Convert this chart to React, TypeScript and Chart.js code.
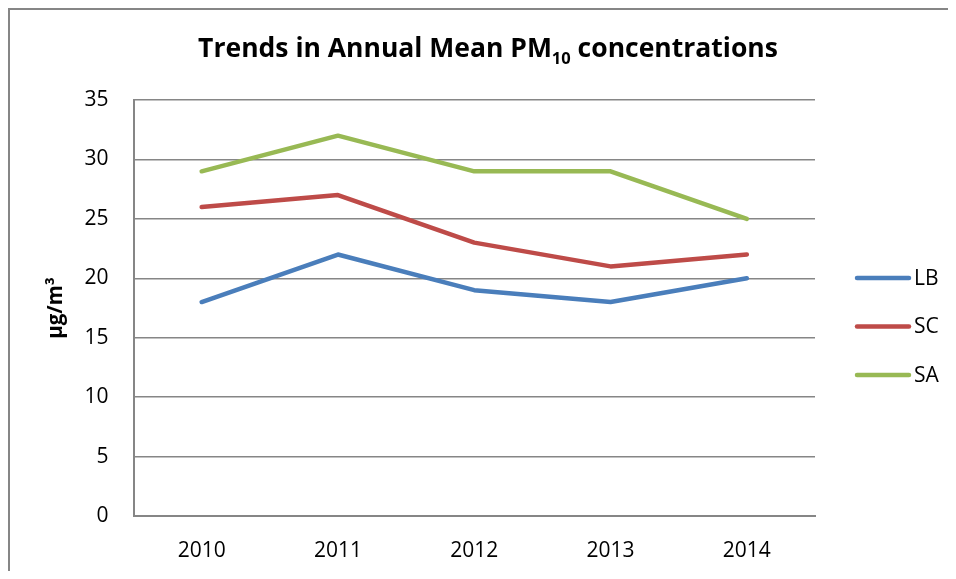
import { useEffect, useRef } from 'react';
import { Chart, registerables } from 'chart.js';

Chart.register(...registerables);

// Annual mean PM10 by monitoring site
const years = ['2010', '2011', '2012', '2013', '2014'];
const lbValues = [18, 22, 19, 18, 20];
const scValues = [26, 27, 23, 21, 22];
const saValues = [29, 32, 29, 29, 25];
const seriesNames = ['LB', 'SC', 'SA'];
const seriesColors = ['#4A7EBB', '#BE4B48', '#98B954'];

const yMin = 0;
const yMax = 35;
const yStep = 5;

const FONT = '"Open Sans", "DejaVu Sans", sans-serif';
const GRID = '#868686';

// Title with a subscripted "10" in PM10
const titlePlugin = {
  id: 'pmTitle',
  afterDraw(chart: any) {
    const ctx = chart.ctx as CanvasRenderingContext2D;
    const mainFont = `bold 26.5px ${FONT}`;
    const subFont = `bold 16.5px ${FONT}`;
    const parts: [string, string, number][] = [
      ['Trends in Annual Mean PM', mainFont, 0],
      ['10', subFont, 7],
      [' concentrations', mainFont, 0],
    ];
    ctx.save();
    ctx.fillStyle = '#000';
    ctx.textBaseline = 'alphabetic';
    ctx.textAlign = 'left';
    let total = 0;
    const widths = parts.map(([t, f]) => {
      ctx.font = f;
      const w = ctx.measureText(t).width;
      total += w;
      return w;
    });
    let x = 478 - total / 2;
    const baseline = 47;
    parts.forEach(([t, f, dy], i) => {
      ctx.font = f;
      ctx.fillText(t, x, baseline + dy);
      x += widths[i];
    });
    ctx.restore();
  },
};

// Legend drawn to the right of the plot
const legendPlugin = {
  id: 'sideLegend',
  afterDraw(chart: any) {
    const ctx = chart.ctx as CanvasRenderingContext2D;
    ctx.save();
    chart.data.datasets.forEach((ds: any, i: number) => {
      const y = 268 + i * 48.5;
      ctx.strokeStyle = ds.borderColor;
      ctx.lineWidth = 4.5;
      ctx.lineCap = 'round';
      ctx.beginPath();
      ctx.moveTo(847, y);
      ctx.lineTo(899, y);
      ctx.stroke();
      ctx.fillStyle = '#000';
      ctx.font = `21px ${FONT}`;
      ctx.textBaseline = 'middle';
      ctx.textAlign = 'left';
      ctx.fillText(ds.label, 904, y + 1);
    });
    ctx.restore();
  },
};

export default function App() {
  const canvasRef = useRef<HTMLCanvasElement | null>(null);

  useEffect(() => {
    if (!canvasRef.current) return;
    const values = [lbValues, scValues, saValues];
    const chart = new Chart(canvasRef.current, {
      type: 'line',
      data: {
        labels: years,
        datasets: seriesNames.map((name, i) => ({
          label: name,
          data: values[i],
          borderColor: seriesColors[i],
          backgroundColor: seriesColors[i],
          borderWidth: 4.5,
          borderCapStyle: 'round',
          borderJoinStyle: 'round',
          pointRadius: 0,
          pointHoverRadius: 0,
          tension: 0,
          fill: false,
        })),
      },
      options: {
        animation: false,
        responsive: false,
        devicePixelRatio: 1,
        layout: { padding: { top: 90, right: 141, bottom: 0, left: 0 } },
        plugins: {
          legend: { display: false },
          title: { display: false },
          tooltip: { enabled: false },
        },
        scales: {
          x: {
            offset: true,
            grid: { display: false, drawTicks: false },
            border: { display: true, color: GRID, width: 2 },
            ticks: {
              color: '#000',
              padding: 22,
              font: { family: FONT, size: 21 },
            },
            afterFit: (scale: any) => {
              scale.height = 63;
            },
          },
          y: {
            min: yMin,
            max: yMax,
            grid: { color: GRID, lineWidth: 1.5, drawTicks: false },
            border: { display: true, color: GRID, width: 2 },
            ticks: {
              stepSize: yStep,
              color: '#000',
              padding: 25,
              font: { family: FONT, size: 21 },
            },
            title: {
              display: true,
              text: 'µg/m³',
              color: '#000',
              font: { family: FONT, size: 20.5, weight: 'bold' },
              padding: { top: 34, bottom: 0 },
            },
            afterFit: (scale: any) => {
              scale.width = 123.5;
            },
          },
        },
      },
      plugins: [titlePlugin, legendPlugin],
    } as any);
    return () => chart.destroy();
  }, []);

  return (
    <div
      style={{
        width: 948,
        height: 571,
        marginBottom: -8,
        boxSizing: 'border-box',
        borderLeft: `2px solid ${GRID}`,
        borderTop: `2px solid ${GRID}`,
        background: '#fff',
      }}
    >
      <canvas ref={canvasRef} width={946} height={569} style={{ display: 'block' }} />
    </div>
  );
}
